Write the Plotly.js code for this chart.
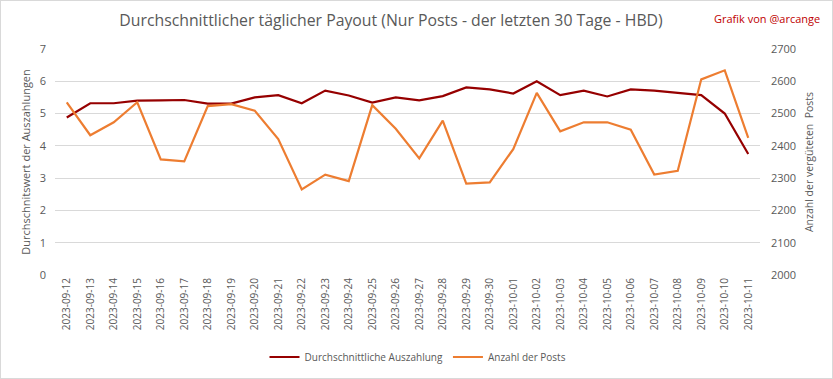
<!DOCTYPE html>
<html>
<head>
<meta charset="utf-8">
<script src="https://cdn.plot.ly/plotly-3.0.1.min.js"></script>
<style>
html,body{margin:0;padding:0;background:#fff;}
#chart{width:833px;height:379px;box-sizing:border-box;border:1px solid #d9d9d9;}
</style>
</head>
<body>
<div id="chart"></div>
<script>
const dates = ["2023-09-12","2023-09-13","2023-09-14","2023-09-15","2023-09-16","2023-09-17","2023-09-18","2023-09-19","2023-09-20","2023-09-21","2023-09-22","2023-09-23","2023-09-24","2023-09-25","2023-09-26","2023-09-27","2023-09-28","2023-09-29","2023-09-30","2023-10-01","2023-10-02","2023-10-03","2023-10-04","2023-10-05","2023-10-06","2023-10-07","2023-10-08","2023-10-09","2023-10-10","2023-10-11"];
const avgPayout = [4.88,5.32,5.32,5.40,5.41,5.42,5.31,5.31,5.50,5.57,5.32,5.71,5.56,5.34,5.50,5.41,5.54,5.81,5.75,5.62,6.00,5.57,5.71,5.53,5.75,5.71,5.64,5.57,5.00,3.75];
const postCount = [2535,2433,2473,2535,2358,2352,2523,2529,2509,2421,2265,2311,2291,2526,2453,2361,2478,2283,2287,2390,2564,2445,2473,2473,2450,2311,2323,2606,2634,2425];
const leftTicks = [0,1,2,3,4,5,6,7];
const rightTicks = [2000,2100,2200,2300,2400,2500,2600,2700];

const FONT = "'Open Sans', 'Liberation Sans', sans-serif";
const GRAY = "#595959";

const traces = [
  {x: dates, y: avgPayout, type: "scatter", mode: "lines", name: "Durchschnittliche Auszahlung",
   line: {color: "#960000", width: 2.2}, yaxis: "y"},
  {x: dates, y: postCount, type: "scatter", mode: "lines", name: "Anzahl der Posts",
   line: {color: "#ED7D31", width: 2.2}, yaxis: "y2"}
];

const layout = {
  width: 831, height: 377,
  margin: {l: 54, r: 72, t: 48, b: 103, pad: 0},
  paper_bgcolor: "#fff", plot_bgcolor: "#fff",
  font: {family: FONT, color: GRAY, size: 10},
  showlegend: true,
  title: {text: "Durchschnittlicher täglicher Payout (Nur Posts - der letzten 30 Tage - HBD)",
    font: {family: FONT, size: 15.8, color: GRAY}, x: 390/831, xanchor: "center", xref: "container",
    y: 1 - 19/377, yanchor: "middle", yref: "container"},
  xaxis: {type: "category", range: [-0.5, 29.5], tickangle: -90, showgrid: false, showline: false,
    zeroline: false, ticks: "", tickfont: {size: 10, color: GRAY}, automargin: false},
  yaxis: {range: [0, 7], tickvals: leftTicks, showgrid: true, gridcolor: "#d9d9d9", gridwidth: 1,
    zeroline: false, showline: false, ticks: "", ticklabelstandoff: 8, tickfont: {size: 11, color: GRAY},
    title: {text: "Durchschnitswert der Auszahlungen", font: {size: 11, color: GRAY}, standoff: 6},
    automargin: false},
  yaxis2: {range: [2000, 2700], tickvals: rightTicks, overlaying: "y", side: "right", showgrid: false,
    zeroline: false, showline: false, ticks: "", ticklabelstandoff: 10, tickfont: {size: 11, color: GRAY},
    title: {text: "Anzahl der vergüteten  Posts", font: {size: 10.5, color: GRAY}, standoff: 10},
    automargin: false},
  legend: {orientation: "h", xref: "container", yref: "container", x: 417/831, xanchor: "center",
    y: 1 - 356/377, yanchor: "middle", font: {size: 10, color: GRAY}, bgcolor: "rgba(0,0,0,0)",
    itemwidth: 30, tracegroupgap: 0},
  annotations: [
    {text: "Grafik von @arcange", xref: "paper", yref: "paper", x: 1.088, y: 1.137,
     xanchor: "right", yanchor: "middle", showarrow: false,
     font: {family: FONT, size: 11, color: "#C00000"}}
  ]
};

Plotly.newPlot("chart", traces, layout, {displayModeBar: false, staticPlot: true});
</script>
</body>
</html>
